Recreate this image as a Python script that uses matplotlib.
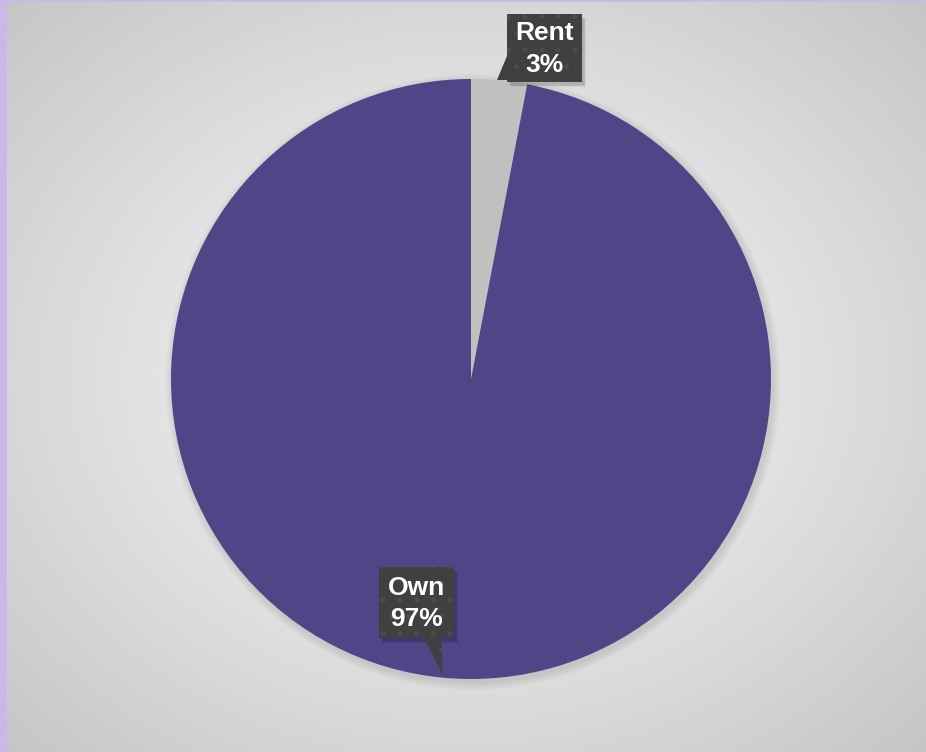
import matplotlib
matplotlib.use('Agg')
import matplotlib.pyplot as plt
import numpy as np
from matplotlib.patches import Polygon, Circle

# Data
labels = ['Rent', 'Own']
shares = [3, 97]
colors = ['#c0c0c0', '#4f4587']

W, H = 926, 752
fig = plt.figure(figsize=(W / 100, H / 100), dpi=100)
ax = fig.add_axes([0, 0, 1, 1])

# radial grey background
yy, xx = np.mgrid[0:H, 0:W]
d = np.sqrt(((xx - W / 2) / (W / 2)) ** 2 + ((yy - H / 2) / (H / 2)) ** 2) / np.sqrt(2)
bg = 0.965 - 0.195 * np.clip(d, 0, 1) ** 1.2
ax.imshow(bg, cmap='gray', vmin=0, vmax=1, extent=[0, W, 0, H], origin='lower', zorder=0)

# lavender border (left and top)
ax.add_patch(plt.Rectangle((0, 0), 7, H, color='#c9b8e8', lw=0, zorder=1))
ax.add_patch(plt.Rectangle((0, H - 2), W - 4, 2, color='#c9b8e8', lw=0, zorder=1))

cx, cy, r = 471, H - 379, 300

# soft shadow
for k in range(8):
    ax.add_patch(Circle((cx + 2, cy - 3), r + 8 - k, color='black', alpha=0.01, lw=0, zorder=2))

wedges, _ = ax.pie(shares, colors=colors, startangle=90, counterclock=False,
                   center=(cx, cy), radius=r, frame=True,
                   wedgeprops=dict(linewidth=0))
for w in wedges:
    w.set_zorder(3)
ax.set_xlim(0, W)
ax.set_ylim(0, H)
ax.set_aspect('equal')
ax.axis('off')

plt.rcParams['hatch.linewidth'] = 1.2
plt.rcParams['hatch.color'] = '#4c4c4c'


def callout(box, tip, base, text):
    x0, y0, x1, y1 = box
    pts_box = [(x0, H - y0), (x1, H - y0), (x1, H - y1), (x0, H - y1)]
    for k in range(4):
        sh = Polygon([(px + 2 + k * 0.5, py - 3 - k * 0.5) for px, py in pts_box],
                     closed=True, color='black', alpha=0.05, lw=0, zorder=4)
        ax.add_patch(sh)
    outline = pts_box[:3] + [(base[1][0], H - base[1][1]), (tip[0], H - tip[1]),
                             (base[0][0], H - base[0][1])] + pts_box[3:]
    if base[0][1] != base[1][1]:
        # pointer on the left side
        outline = pts_box[:3] + pts_box[3:] + [(base[1][0], H - base[1][1]),
                                               (tip[0], H - tip[1]),
                                               (base[0][0], H - base[0][1])]
    p = Polygon(outline, closed=True, facecolor='#404040', edgecolor='#4c4c4c',
                hatch='.', lw=0, zorder=5)
    ax.add_patch(p)
    ax.text((x0 + x1) / 2, H - (y0 + y1) / 2 - 1, text, ha='center', va='center',
            color='white', fontsize=19, fontweight='bold', family='Liberation Sans',
            linespacing=1.4, zorder=6)


pct = [f'{labels[i]}\n{shares[i]}%' for i in range(len(labels))]
callout((507, 14, 582, 82), (497, 80), ((507, 56), (507, 80)), pct[0])
callout((379, 567, 454, 638), (443, 675), ((424, 638), (441, 638)), pct[1])

fig.savefig('out.png', dpi=100)
